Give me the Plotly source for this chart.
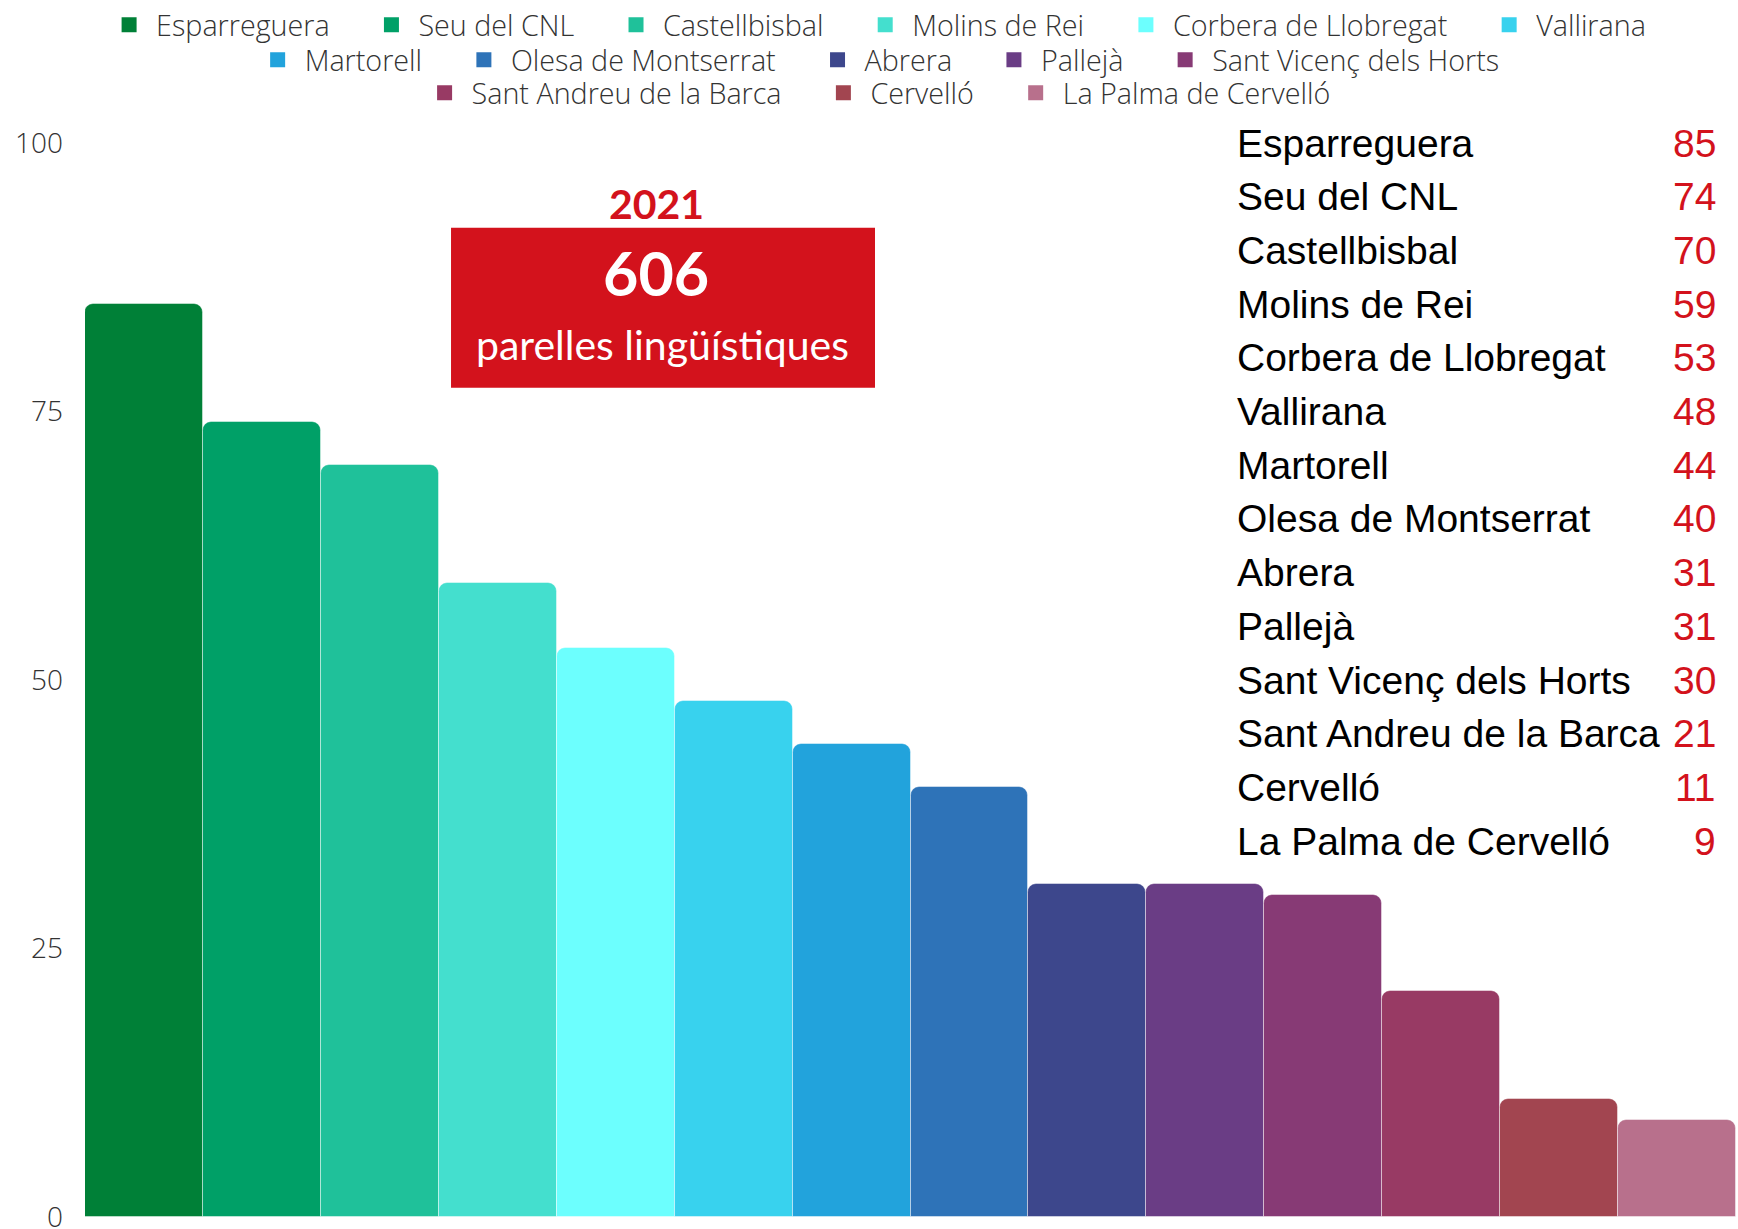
import plotly.graph_objects as go

municipis = ["Esparreguera", "Seu del CNL", "Castellbisbal", "Molins de Rei",
             "Corbera de Llobregat", "Vallirana", "Martorell", "Olesa de Montserrat",
             "Abrera", "Pallejà", "Sant Vicenç dels Horts", "Sant Andreu de la Barca",
             "Cervelló", "La Palma de Cervelló"]
parelles = [85, 74, 70, 59, 53, 48, 44, 40, 31, 31, 30, 21, 11, 9]
colors = ["#008037", "#00a067", "#1fc19a", "#44dfce", "#6cfffe", "#38d2ee", "#22a3dc",
          "#2e73b8", "#3d478c", "#6a3d85", "#873a75", "#983a64", "#a24550", "#b8708c"]
legend_groups = ["legend"] * 6 + ["legend2"] * 5 + ["legend3"] * 3
y_ticks = [0, 25, 50, 75, 100]
year = "2021"
total = "606"
subtitle = "parelles lingüístiques"

W, H = 1738, 1229
PAD = "\u00a0" * 4
fig = go.Figure()
for name, val, col in zip(municipis, parelles, colors):
    fig.add_trace(go.Bar(x=[name], y=[val], name=name, showlegend=False,
                         marker=dict(color=col, cornerradius=9,
                                     line=dict(width=1, color="rgba(255,255,255,0.45)"))))
# legend entries (square swatches)
for name, col, lg in zip(municipis, colors, legend_groups):
    fig.add_trace(go.Scatter(x=[None], y=[None], mode="markers", name=name + PAD, legend=lg,
                             marker=dict(symbol="square", size=15, color=col),
                             hoverinfo="skip"))

# right-hand list
for i, (name, val) in enumerate(zip(municipis, parelles)):
    yv = 100 - 5 * i
    fig.add_annotation(x=0.6965, y=yv, xref="paper", yref="y", text=name,
                       showarrow=False, xanchor="left", yanchor="middle",
                       font=dict(family="Liberation Sans, Arial", size=39, color="#000000"))
    fig.add_annotation(x=0.9890, y=yv, xref="paper", yref="y", text=str(val),
                       showarrow=False, xanchor="right", yanchor="middle",
                       font=dict(family="Liberation Sans, Arial", size=39, color="#d3121c"))

# red box
fig.add_shape(type="rect", xref="paper", yref="y", x0=0.2217, x1=0.4785, y0=77.2, y1=92.1,
              fillcolor="#d3121c", line=dict(width=0), layer="above")
fig.add_annotation(x=0.346, y=94.4, xref="paper", yref="y", text="<b>" + year + "</b>",
                   showarrow=False, xanchor="center", yanchor="middle",
                   font=dict(family="Lato", size=41, color="#d3121c"))
fig.add_annotation(x=0.346, y=87.9, xref="paper", yref="y", text="<b>" + total + "</b>",
                   showarrow=False, xanchor="center", yanchor="middle",
                   font=dict(family="Lato", size=61, color="#ffffff"))
fig.add_annotation(x=0.350, y=81.2, xref="paper", yref="y", text=subtitle,
                   showarrow=False, xanchor="center", yanchor="middle",
                   font=dict(family="Lato", size=41, color="#ffffff"))

legend_common = dict(orientation="h", xref="container", yref="container",
                     xanchor="center", yanchor="middle", itemwidth=44,
                     font=dict(family="Open Sans", size=28.7, color="#333333", weight=300),
                     bgcolor="rgba(0,0,0,0)", itemclick=False, itemdoubleclick=False)
fig.update_layout(
    width=W, height=H,
    margin=dict(l=85, r=2, t=143, b=12, autoexpand=False),
    paper_bgcolor="white", plot_bgcolor="white",
    barmode="relative", bargap=0,
    showlegend=True,
    legend=dict(x=0.513, y=1 - 25 / H, **legend_common),
    legend2=dict(x=0.5136, y=1 - 60 / H, **legend_common),
    legend3=dict(x=0.513, y=1 - 93 / H, **legend_common),
    xaxis=dict(visible=False, range=[-0.5, 13.5], automargin=False),
    yaxis=dict(range=[0, 100], tickvals=y_ticks, showgrid=False, zeroline=False,
               showline=False, ticks="", ticklabelstandoff=21, ticklabeloverflow="allow",
               automargin=False,
               tickfont=dict(family="Open Sans", size=28, color="#333333", weight=300)),
)
fig.write_html("out.html", config={"displayModeBar": False},
               post_script="document.body.style.margin='0';document.body.style.overflow='hidden';")
